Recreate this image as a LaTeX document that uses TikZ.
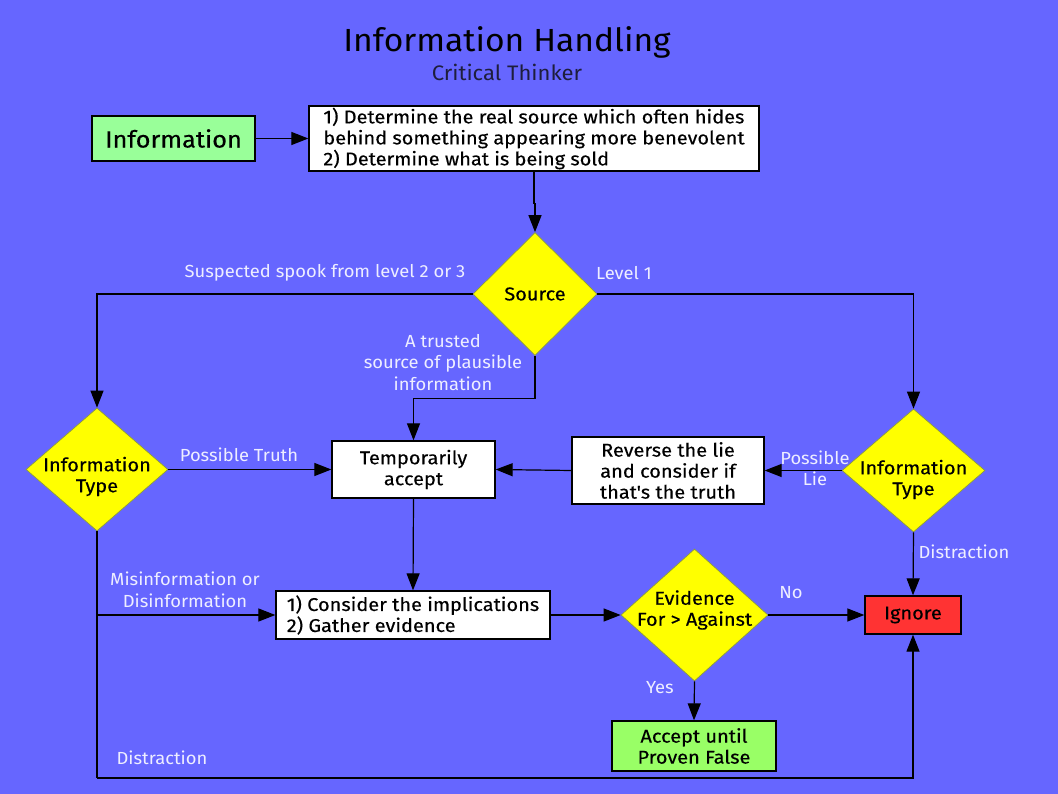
\documentclass[tikz,border=0pt]{standalone}
\usepackage{fontspec}
\setmainfont{Fira Sans}[FakeStretch=1.05]
\newfontfamily\boxfont{Fira Sans}[FakeStretch=1.08,FakeBold=0.35]
\usetikzlibrary{shapes.geometric,arrows.meta}
\definecolor{bg}{HTML}{6666FF}
\definecolor{infogreen}{HTML}{99FF99}
\definecolor{acceptgreen}{HTML}{99FF66}
\definecolor{ignred}{HTML}{FF3333}
\definecolor{dyellow}{HTML}{FFFF00}
\definecolor{dedge}{HTML}{8C9C3C}
\definecolor{lbl}{HTML}{EEEEFF}
\begin{document}
\begin{tikzpicture}[x=1pt,y=-1pt,
  box/.style={draw=black, line width=1.3pt, fill=white, inner sep=0pt, align=center,
    font=\boxfont\fontsize{18.5}{21}\selectfont},
  dia/.style={diamond, draw=dedge, line width=0.7pt, fill=dyellow, inner sep=0pt},
  dtext/.style={font=\boxfont\fontsize{18.5}{21}\selectfont, align=center},
  lab/.style={text=lbl, font=\fontsize{17.5}{21.5}\selectfont, align=center, inner sep=0pt},
  arr/.style={draw=black, line width=1.2pt, -{Triangle[length=17pt,width=13pt]}},
  ln/.style={draw=black, line width=1.2pt}]
\fill[bg] (0,0) rectangle (1058,794);
\useasboundingbox (0,0) rectangle (1058,794);

% title
\node[font=\fontsize{32}{36}\selectfont] (title) at (507,42) {Information Handling};
\node[font=\fontsize{21}{24}\selectfont, text={rgb,255:red,30;green,30;blue,60}] (sub) at (507,72) {Critical Thinker};

% nodes
\node[box, fill=infogreen, minimum width=163pt, minimum height=45pt, font=\boxfont\fontsize{23.5}{28}\selectfont] (info) at (173.5,138.5) {Information};
\node[box, minimum width=450pt, minimum height=65pt, align=left, inner xsep=11pt] (det) at (534,138.5)
  {1) Determine the real source which often hides\\behind something appearing more benevolent\\2) Determine what is being sold};
\node[dia, minimum width=124pt, minimum height=123pt] (src) at (535,294) {};
\node[dtext] (srct) at (src.center) {Source};
\node[dia, minimum width=142pt, minimum height=123pt] (lt) at (97,469.5) {};
\node[dtext, yshift=-7pt] (ltt) at (lt.center) {Information\\Type};
\node[dia, minimum width=143pt, minimum height=123pt] (rt) at (913.5,470.5) {};
\node[dtext, yshift=-9pt] (rtt) at (rt.center) {Information\\Type};
\node[box, minimum width=163pt, minimum height=57pt] (tmp) at (413.5,469.5) {Temporarily\\accept};
\node[box, minimum width=192pt, minimum height=67pt] (rev) at (668,470.5) {Reverse the lie\\and consider if\\that's the truth};
\node[box, minimum width=274pt, minimum height=48pt, align=left] (cons) at (413,615) {1) Consider the implications\\2) Gather evidence};
\node[dia, minimum width=147pt, minimum height=132pt] (ev) at (694.5,615) {};
\node[dtext, yshift=5pt] (evt) at (ev.center) {Evidence\\For > Against};
\node[box, fill=ignred, minimum width=96pt, minimum height=38pt] (ign) at (913,615) {Ignore};
\node[box, fill=acceptgreen, minimum width=164pt, minimum height=50pt] (acc) at (694,746) {Accept until\\Proven False};
\coordinate (bl) at (97,778);

% connectors
\draw[arr] (info) -- (det);
\draw[arr] (det.south) -- ++(0,32) -| (src.north);
\draw[arr] (src.west) -| (lt.north);
\draw[arr] (src.east) -| (rt.north);
\draw[arr] (src.south) -- ++(0,43) -| (tmp.north);
\draw[arr] (lt.east) -- (tmp.west);
\draw[arr] (rt.west) -- (rev.east);
\draw[arr] (rev.west) -- (tmp.east);
\draw[arr] (tmp.south) -- (cons.north);
\draw[ln] (lt.south) -- (bl);
\draw[arr] (bl) -| (ign.south);
\draw[arr] (lt.south |- cons.west) -- (cons.west);
\draw[arr] (cons.east) -- (ev.west);
\draw[arr] (ev.east) -- (ign.west);
\draw[arr] (rt.south) -- (ign.north);
\draw[arr] (ev.south) -- (acc.north);

% labels
\node[lab] (l1) at (325,273) {Suspected spook from level 2 or 3};
\node[lab] (l2) at (624,273) {Level 1};
\node[lab] (l3) at (443,362.5) {A trusted\\source of plausible\\information};
\node[lab] (l4) at (239,455) {Possible Truth};
\node[lab] (l5) at (815,468.5) {Possible\\Lie};
\node[lab] (l6) at (185,590) {Misinformation or\\Disinformation};
\node[lab] (l7) at (964,552) {Distraction};
\node[lab] (l8) at (791,593) {No};
\node[lab] (l9) at (660,688) {Yes};
\node[lab] (l10) at (162,758) {Distraction};
\end{tikzpicture}
\end{document}
